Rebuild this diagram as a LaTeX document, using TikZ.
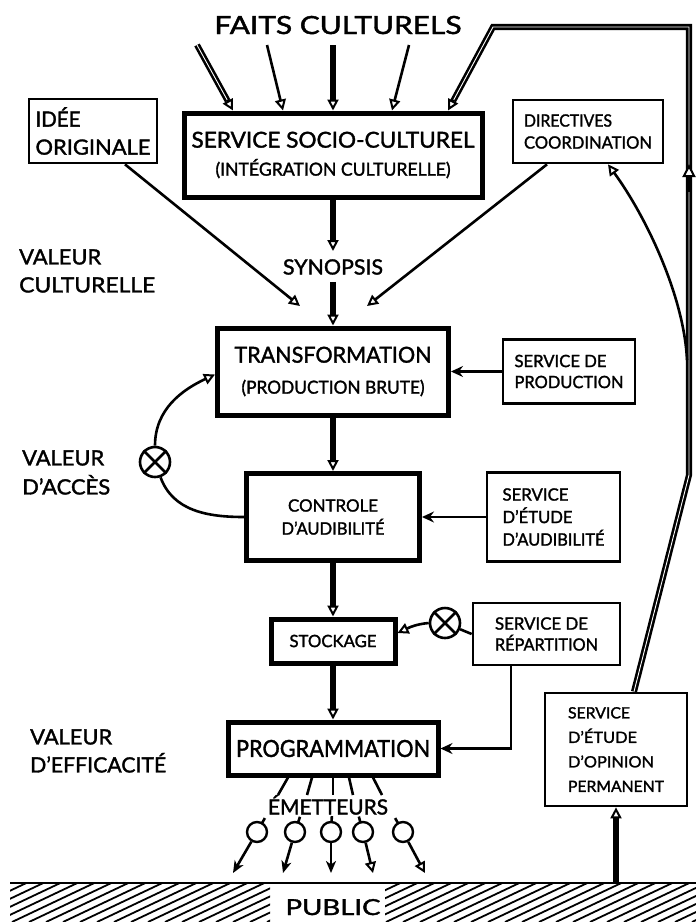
\documentclass[tikz,border=0pt]{standalone}
\usepackage{fontspec}
\setmainfont{Lato}[UprightFeatures={FakeBold=1.6}]
\usepackage{graphicx}
\usetikzlibrary{arrows.meta,calc}

% stretch a line of text horizontally to a given width (in pt)
\newlength\fitlen
\newcommand\fitw[2]{\settowidth{\fitlen}{#2}\pgfmathsetmacro\fitfac{#1/\fitlen}\scalebox{\fitfac}[1]{#2}}
\newcommand\fs[2]{\fontsize{#1}{#2}\selectfont}

\begin{document}
\begin{tikzpicture}[x=1pt,y=-1pt,
  every node/.style={inner sep=0pt},
  thinbox/.style={draw, line width=2.7pt, align=left},
  thickbox/.style={draw, line width=5pt, align=center},
  lbl/.style={align=left, anchor=west},
  ln/.style={line width=2.6pt},
  heavy/.style={line width=5.5pt},
  dbl/.style={double, double distance=0.9pt, line width=2.6pt},
  tipH/.style={-{Triangle[length=11pt,width=11pt,fill=white,line width=2pt]}},
  tipS/.style={-{Stealth[length=12pt,width=11pt,inset=4pt,fill=white,line width=2pt]}},
  tipF/.style={-{Stealth[length=12pt,width=10pt,inset=3.5pt]}},
  xcirc/.style={circle, draw, line width=2.6pt, minimum size=30pt},
  ecirc/.style={circle, draw, line width=2.4pt, minimum size=20pt},
]
\useasboundingbox (0,0) rectangle (696,922);

% ---------- boxes ----------
\node[thickbox, minimum width=298pt, minimum height=84pt, font=\fs{22}{28}] (ssc) at (333,155)
  {\fitw{283}{SERVICE SOCIO-CULTUREL}\\{\fs{18}{28}\fitw{235}{(INTÉGRATION CULTURELLE)}}};
\node[thinbox, minimum width=128pt, minimum height=64pt, font=\fs{21}{28}] (idee) at (93,131)
  {\fitw{45}{IDÉE}\\\fitw{115}{ORIGINALE}};
\node[thinbox, minimum width=150pt, minimum height=63pt, font=\fs{17}{22}] (dir) at (588,131.5)
  {\fitw{88}{DIRECTIVES}\\\fitw{128}{COORDINATION}};
\node[thickbox, minimum width=231pt, minimum height=87pt, font=\fs{22}{31}] (trans) at (333,371.5)
  {\fitw{197}{TRANSFORMATION}\\{\fs{18}{31}\fitw{183}{(PRODUCTION BRUTE)}}};
\node[thinbox, minimum width=132pt, minimum height=64pt, font=\fs{17}{21}] (prod) at (569,371.5)
  {\fitw{92}{SERVICE DE}\\\fitw{109}{PRODUCTION}};
\node[thickbox, minimum width=173pt, minimum height=87pt, font=\fs{17}{23}] (ctrl) at (333,517)
  {\fitw{90}{CONTROLE}\\\fitw{103}{D'AUDIBILITÉ}};
\node[thinbox, minimum width=133pt, minimum height=89pt, font=\fs{17}{22.5}] (aud) at (553.5,517)
  {\fitw{66}{SERVICE}\\\fitw{70}{D'ÉTUDE}\\\fitw{102}{D'AUDIBILITÉ}};
\node[thickbox, minimum width=124pt, minimum height=44pt, font=\fs{17}{20}] (stock) at (333,641)
  {\fitw{87}{STOCKAGE}};
\node[thinbox, minimum width=147pt, minimum height=62pt, font=\fs{17}{21}] (rep) at (546.5,634)
  {\fitw{93}{SERVICE DE}\\\fitw{103}{RÉPARTITION}};
\node[thickbox, minimum width=210pt, minimum height=53pt, font=\fs{23.5}{28}] (prog) at (333,748.5)
  {\fitw{194}{PROGRAMMATION}};
\node[thinbox, minimum width=142pt, minimum height=113pt, font=\fs{15.5}{24.5}] (opin) at (616,749.5)
  {\fitw{62}{SERVICE}\\\fitw{69}{D'ÉTUDE}\\\fitw{86}{D'OPINION}\\\fitw{96}{PERMANENT}};

% ---------- free labels ----------
\node[lbl, font=\fs{21}{28}] (vcult) at (19,271) {\fitw{82}{VALEUR}\\\fitw{136}{CULTURELLE}};
\node[lbl, font=\fs{21}{29}] (vacc) at (22,472.5) {\fitw{82}{VALEUR}\\\fitw{88}{D'ACCÈS}};
\node[lbl, font=\fs{21}{28}] (veff) at (30,751) {\fitw{82}{VALEUR}\\\fitw{136}{D'EFFICACITÉ}};
\node[anchor=base, font=\fs{25}{30}] (faits) at (338,34) {\fitw{247}{FAITS CULTURELS}};
\node[anchor=base, font=\fs{21}{25}] (syn) at (333,274.5) {\fitw{100}{SYNOPSIS}};
\node[anchor=base, font=\fs{21}{25}] (emet) at (328,814.5) {\fitw{120}{ÉMETTEURS}};
\node[anchor=base, font=\fs{22}{25}] (pub) at (333,915) {\fitw{95}{PUBLIC}};

% ---------- mixing points ----------
\node[xcirc] (xo1) at (155,462) {};
\draw[ln] (xo1.45) -- (xo1.225) (xo1.135) -- (xo1.315);
\node[xcirc] (xo2) at (445,623) {};
\draw[ln] (xo2.45) -- (xo2.225) (xo2.135) -- (xo2.315);

% ---------- cultural facts into the socio-cultural service ----------
\coordinate (f1) at (197,45);
\coordinate (f2) at (267,45);
\coordinate (f3) at (333,45);
\coordinate (f4) at (409,45);
\coordinate (f1e) at ([xshift=-100pt]ssc.north);
\coordinate (f2e) at ([xshift=-50pt]ssc.north);
\coordinate (f3e) at (ssc.north);
\coordinate (f4e) at ([xshift=59pt]ssc.north);
\coordinate (f5e) at ([xshift=115pt]ssc.north);
\draw[dbl, shorten >=11pt] (f1) -- (f1e);
\draw[ln, tipH] ($(f1e)!12pt!(f1)$) -- (f1e);
\draw[ln, tipH] (f2) -- (f2e);
\draw[heavy, tipH] (f3) -- (f3e);
\draw[ln, tipH] (f4) -- (f4e);

% ---------- feedback loop from the opinion survey ----------
\coordinate (fbS) at ([xshift=18pt]opin.north);
\coordinate (fbA) at (689,475);
\coordinate (fbB) at (689,27);
\coordinate (fbC) at (493,27);
\draw[dbl, shorten >=11pt] (fbS) -- (fbA) -- (fbB) -- (fbC) -- (f5e);
\draw[ln, tipH] ($(f5e)!12pt!(fbC)$) -- (f5e);
\coordinate (upA) at (689,192);
\coordinate (upB) at (689,164);
\draw[ln, -{Triangle[length=13pt,width=13pt,fill=white,line width=2pt]}] (upA) -- (upB);
\coordinate (fbJ) at (687,360);
\draw[ln, tipH] (fbJ) .. controls (684,295) and (645,215) .. ([xshift=20pt]dir.south);

% ---------- main chain ----------
\coordinate (synIn) at (333,251);
\draw[heavy, tipH] (ssc.south) -- (synIn);
\draw[heavy, tipH] ([yshift=-7pt]syn.south) -- (trans.north);
\coordinate (ideeEnd) at (300,306);
\coordinate (dirEnd) at (367,306);
\draw[ln, tipH] ([xshift=32pt]idee.south) -- (ideeEnd);
\draw[ln, tipH] ([xshift=-41pt]dir.south) -- (dirEnd);
\draw[ln, tipS] (prod.west) -- (trans.east);
\draw[heavy, tipH] (trans.south) -- (ctrl.north);
\draw[ln] (ctrl.west) to[out=180,in=-70] (xo1.-70);
\draw[ln, tipH] (xo1.north) to[out=90,in=205] ([yshift=-3pt]trans.west);
\draw[ln, tipS] (aud.west) -- (ctrl.east);
\draw[heavy, tipH] (ctrl.south) -- (stock.north);
\draw[ln] (xo2) -- (rep.west);
\draw[ln, tipH] (xo2.west) to[out=185,in=25] ([yshift=8pt]stock.east);
\draw[heavy, tipH] (stock.south) -- (prog.north);
\draw[ln, tipS] ([xshift=-35.5pt]rep.south) |- (prog.east);

% ---------- transmitters ----------
\foreach \i/\tx/\bx/\cx/\px in {1/-45/278/257/233, 2/-21/307/295/283, 3/0/333/331/331, 4/16/353/363/373, 5/40/382/403/425}{
  \coordinate (b\i) at (\bx,795);
  \coordinate (p\i) at (\px,873);
  \draw[ln] ([xshift=\tx pt]prog.south) -- (b\i);
  \node[ecirc] (e\i) at (\cx,832) {};
  \draw[ln] ($(e\i.center)!10pt!(b\i)$) -- ($(e\i.center)!16pt!(b\i)$);
}
\draw[ln, tipF] (e1) -- (p1);
\draw[ln, tipF] (e2) -- (p2);
\draw[ln, tipF] (e3) -- (p3);
\draw[ln, tipH] (e4) -- (p4);
\draw[ln, tipH] (e5) -- (p5);

% ---------- public (hatched ground) ----------
\coordinate (g0) at (10,883);
\coordinate (g1) at (696,883);
\coordinate (gnd) at (616,883);
\draw[line width=2.6pt] (g0) -- (g1);
\begin{scope}
  \clip (10,884) rectangle (270,922) (385,884) rectangle (696,922);
  \foreach \x in {-90,-73,...,700} \draw[line width=1.8pt] (\x,922) -- ++(95,-45);
\end{scope}
\draw[heavy, tipH] (gnd) -- (opin.south);
\end{tikzpicture}
\end{document}
